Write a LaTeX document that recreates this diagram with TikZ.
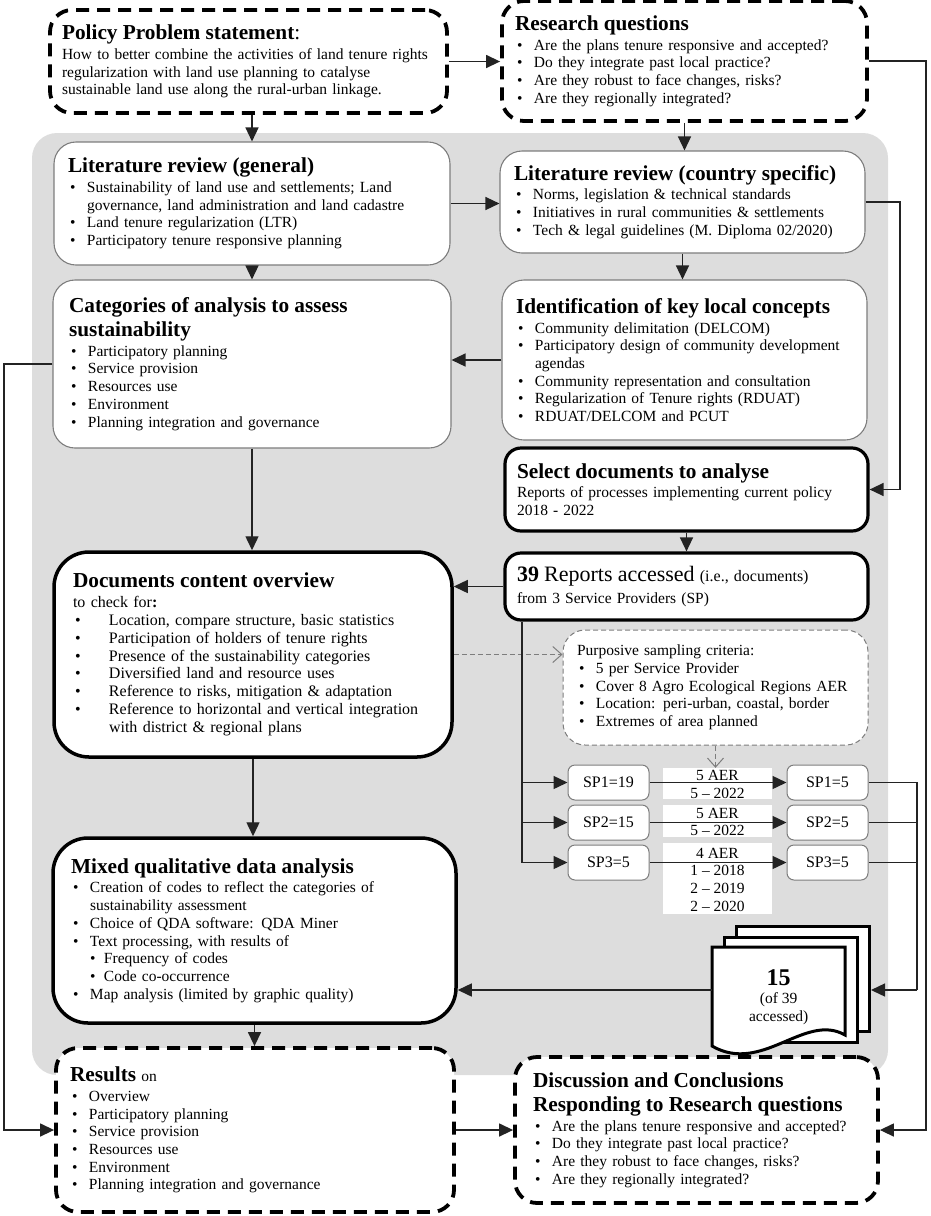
\documentclass[tikz,border=0pt]{standalone}
\usepackage{fontspec}
\setmainfont{Liberation Serif}
\usetikzlibrary{positioning}
\usetikzlibrary{arrows.meta,shapes}
\usetikzlibrary{calc}
\definecolor{bggray}{RGB}{221,221,221}
\definecolor{edgegray}{RGB}{125,125,125}
\definecolor{linegray}{RGB}{35,35,35}
\newcommand{\bodyfont}{\fontsize{15.5}{17.7}\selectfont}
\newcommand{\ttl}[1]{{\fontsize{21.3}{24}\selectfont\bfseries #1\par}\vskip 2pt}
\newcommand{\bl}[1]{\par\hangindent=19pt\hangafter=1\noindent\hbox to 19pt{\hskip 2pt\textbullet\hfil}#1}
\newcommand{\wbl}[1]{\par\hangindent=36pt\hangafter=1\noindent\hbox to 36pt{\hskip 2pt\textbullet\hfil}#1}
\newcommand{\sbl}[1]{\par\hangindent=33pt\hangafter=1\noindent\hbox to 33pt{\hskip 19pt\textbullet\hfil}#1}
\tikzstyle{dashbox}=[draw=black, line width=3.8pt, dash pattern=on 13pt off 8pt, rounded corners=22pt, fill=white, align=left, inner xsep=12pt, font=\bodyfont]
\tikzstyle{thinbox}=[draw=edgegray, line width=1.1pt, rounded corners=22pt, fill=white, align=left, inner xsep=14pt, font=\bodyfont]
\tikzstyle{thickbox}=[draw=black, line width=3.2pt, rounded corners=16pt, fill=white, align=left, inner xsep=12pt, font=\bodyfont]
\tikzstyle{critbox}=[draw=edgegray, line width=1pt, dash pattern=on 5pt off 3pt, rounded corners=22pt, fill=white, align=left, inner xsep=14pt, font=\bodyfont]
\tikzstyle{spbox}=[draw=edgegray, line width=1pt, rounded corners=7pt, fill=white, minimum width=81pt, minimum height=35pt, font=\fontsize{16}{18}\selectfont]
\tikzstyle{aerlabel}=[fill=white, minimum width=109pt, align=center, inner sep=0pt, font=\fontsize{15.5}{17.7}\selectfont]
\tikzstyle{sheet}=[draw=black, line width=3pt, fill=white, minimum width=133pt, minimum height=105pt, anchor=north west]
\tikzstyle{arr}=[draw=linegray, line width=1.4pt, -{Triangle[length=14pt,width=13pt]}]
\tikzstyle{conn}=[draw=linegray, line width=1.4pt]
\tikzstyle{dasharr}=[draw=edgegray, line width=1pt, dash pattern=on 5pt off 3pt, -{Straight Barb[length=9pt,width=16pt]}]

\begin{document}
\begin{tikzpicture}[x=1pt, y=-1pt]
\useasboundingbox (0,0) rectangle (930,1216);

%background
\fill[bggray, rounded corners=25pt] (32,133) rectangle (888,1075);

%top row
\node[dashbox, minimum width=397pt, minimum height=103pt, text width=373pt, inner xsep=12pt] (policy) at (248.5,61.5)
  {\ttl{Policy Problem statement\textmd{:}}\noindent How to better combine the activities of land tenure rights\newline regularization with land use planning to catalyse\newline sustainable land use along the rural-urban linkage.\par};
\node[dashbox, minimum width=365pt, minimum height=120pt, text width=339pt, inner xsep=13pt] (research) at (684.5,61)
  {\ttl{Research questions}\bl{Are the plans tenure responsive and accepted?}\bl{Do they integrate past local practice?}\bl{Are they robust to face changes, risks?}\bl{Are they regionally integrated?}\par};

%literature
\node[thinbox, minimum width=396pt, minimum height=123pt, text width=368pt] (litgen) at (252,203.5)
  {\ttl{Literature review (general)}\bl{Sustainability of land use and settlements; Land\newline governance, land administration and land cadastre}\bl{Land tenure regularization (LTR)}\bl{Participatory tenure responsive planning}\par};
\node[thinbox, minimum width=365pt, minimum height=102pt, text width=337pt] (litcountry) at (682.5,202)
  {\ttl{Literature review (country specific)}\bl{Norms, legislation \& technical standards}\bl{Initiatives in rural communities \& settlements}\bl{Tech \& legal guidelines (M. Diploma 02/2020)}\par};

%concepts
\node[thinbox, minimum width=398pt, minimum height=168pt, text width=366pt, inner xsep=16pt] (categories) at (252,364)
  {\ttl{Categories of analysis to assess\newline sustainability}\bl{Participatory planning}\bl{Service provision}\bl{Resources use}\bl{Environment}\bl{Planning integration and governance}\par};
\node[thinbox, minimum width=365pt, minimum height=160pt, text width=337pt] (ident) at (684.5,360)
  {\ttl{Identification of key local concepts}\bl{Community delimitation (DELCOM)}\bl{Participatory design of community development\newline agendas}\bl{Community representation and consultation}\bl{Regularization of Tenure rights (RDUAT)}\bl{RDUAT/DELCOM and PCUT}\par};

%documents
\node[thickbox, minimum width=363pt, minimum height=83pt, text width=339pt] (select) at (686.5,489.5)
  {\ttl{Select documents to analyse}\noindent Reports of processes implementing current policy\newline 2018 - 2022\par};
\node[thickbox, minimum width=363pt, minimum height=67pt, text width=339pt] (reports) at (686.5,586.5)
  {\noindent{\fontsize{22}{24}\selectfont\textbf{39} Reports accessed} {\fontsize{16}{18}\selectfont (i.e., documents)}\\[5pt] from 3 Service Providers (SP)};
\node[thickbox, line width=3.5pt, rounded corners=35pt, minimum width=398pt, minimum height=205pt, text width=360pt, inner xsep=19pt, font=\fontsize{16}{17.8}\selectfont] (documents) at (253,654.5)
  {\ttl{Documents content overview}\noindent to check for\textbf{:}\wbl{Location, compare structure, basic statistics}\wbl{Participation of holders of tenure rights}\wbl{Presence of the sustainability categories}\wbl{Diversified land and resource uses}\wbl{Reference to risks, mitigation \& adaptation}\wbl{Reference to horizontal and vertical integration\newline with district \& regional plans}\par};
\node[critbox, minimum width=305pt, minimum height=115pt, text width=277pt] (purposive) at (715.5,687.5)
  {\noindent Purposive sampling criteria:\bl{5 per Service Provider}\bl{Cover 8 Agro Ecological Regions AER}\bl{Location: peri-urban, coastal, border}\bl{Extremes of area planned}\par};

%sampling per service provider
\foreach \pos/\name/\h in {{(717.5,783.5)/lab1/31}, {(717.5,821)/lab2/32}, {(717.5,878.5)/lab3/71}}
    \node[aerlabel, minimum height=\h pt] (\name) at \pos {};
\foreach \pos/\name/\label in {{(717.5,784.5)/labt1/{5 AER\\5 -- 2022}}, {(717.5,822)/labt2/{5 AER\\5 -- 2022}}, {(717.5,879.5)/labt3/{4 AER\\1 -- 2018\\2 -- 2019\\2 -- 2020}}}
    \node[aerlabel, fill=none] (\name) at \pos {\label};
\foreach \pos/\name/\label in {{(608.5,782.5)/spa1/SP1=19}, {(608.5,822.5)/spa2/SP2=15}, {(608.5,862.5)/spa3/SP3=5}, {(827.5,782.5)/spb1/SP1=5}, {(827.5,822.5)/spb2/SP2=5}, {(827.5,862.5)/spb3/SP3=5}}
    \node[spbox] (\name) at \pos {\label};

%stack of selected reports
\node[sheet] (sheetback) at (735,925) {};
\node[sheet] (sheetmid) at (723,936) {};
\filldraw[fill=white, draw=black, line width=3pt] (712,947) -- (845,947) -- (845,1035) .. controls (805,1012) and (762,1075) .. (712,1046) -- cycle;
\node[align=center, minimum width=133pt, minimum height=100pt, anchor=north west, font=\fontsize{15.5}{18}\selectfont] (sheetfront) at (712,947)
  {{\fontsize{24}{26}\selectfont\textbf{15}}\\(of 39\\accessed)};

%analysis and results
\node[thickbox, line width=3.5pt, rounded corners=35pt, minimum width=403pt, minimum height=185pt, text width=367pt, inner xsep=18pt] (mixed) at (254.5,930.5)
  {\ttl{Mixed qualitative data analysis}\bl{Creation of codes to reflect the categories of\newline sustainability assessment}\bl{Choice of QDA software: QDA Miner}\bl{Text processing, with results of}\sbl{Frequency of codes}\sbl{Code co-occurrence}\bl{Map analysis (limited by graphic quality)}\par};
\node[dashbox, minimum width=398pt, minimum height=164pt, text width=370pt, inner xsep=14pt] (results) at (255,1130)
  {\ttl{Results {\mdseries\bodyfont on}}\bl{Overview}\bl{Participatory planning}\bl{Service provision}\bl{Resources use}\bl{Environment}\bl{Planning integration and governance}\par};
\node[dashbox, minimum width=363pt, minimum height=146pt, text width=327pt, inner xsep=18pt] (discussion) at (696.5,1130)
  {\ttl{Discussion and Conclusions\newline Responding to Research questions}\bl{Are the plans tenure responsive and accepted?}\bl{Do they integrate past local practice?}\bl{Are they robust to face changes, risks?}\bl{Are they regionally integrated?}\par};

%routing points
\coordinate (rqline) at (926,0);
\coordinate (lcline) at (900,0);
\coordinate (catline) at (4,0);
\coordinate (trunk) at (522,0);
\coordinate (merge) at (917,990);

%connectors
\draw[arr] (policy.east) -- (policy.east -| research.west);
\draw[arr] (research.east) -- (research.east -| rqline) -- (rqline |- discussion.east) -- (discussion.east);
\draw[arr] (litgen.north |- policy.south) -- (litgen.north);
\draw[arr] (research.south) -- (research.south |- litcountry.north);
\draw[arr] (litgen.east) -- (litgen.east -| litcountry.west);
\draw[arr] (litgen.south) -- (litgen.south |- categories.north);
\draw[arr] (litcountry.south) -- (litcountry.south |- ident.north);
\draw[arr] (litcountry.east) -- (litcountry.east -| lcline) -- (lcline |- select.east) -- (select.east);
\draw[arr] (ident.west) -- (ident.west -| categories.east);
\draw[arr] (categories.west) -- (categories.west -| catline) -- (catline |- results.west) -- (results.west);
\draw[arr] (categories.south) -- (categories.south |- documents.north);
\draw[arr] (select.south) -- (reports.north);
\draw[arr] (reports.west) -- (reports.west -| documents.east);
\draw[dasharr] (documents.east) -- (documents.east -| purposive.west);
\draw[dasharr] (purposive.south) -- (purposive.south |- lab1.north);
\draw[conn] (reports.south -| trunk) -- (trunk |- spa3.west);
\foreach \i in {1,2,3}
    \draw[arr] (trunk |- spa\i.west) -- (spa\i.west);
\foreach \i in {1,2,3}
    \draw[arr] (spa\i.east) -- (spb\i.west);
\foreach \i in {1,2,3}
    \draw[conn] (spb\i.east) -| (merge);
\draw[arr] (merge) -- (merge -| sheetback.east);
\draw[arr] (merge -| sheetfront.west) -- (merge -| mixed.east);
\draw[arr] (documents.south) -- (documents.south |- mixed.north);
\draw[arr] (mixed.south) -- (mixed.south |- results.north);
\draw[arr] (results.east) -- (discussion.west);

\end{tikzpicture}
\end{document}
